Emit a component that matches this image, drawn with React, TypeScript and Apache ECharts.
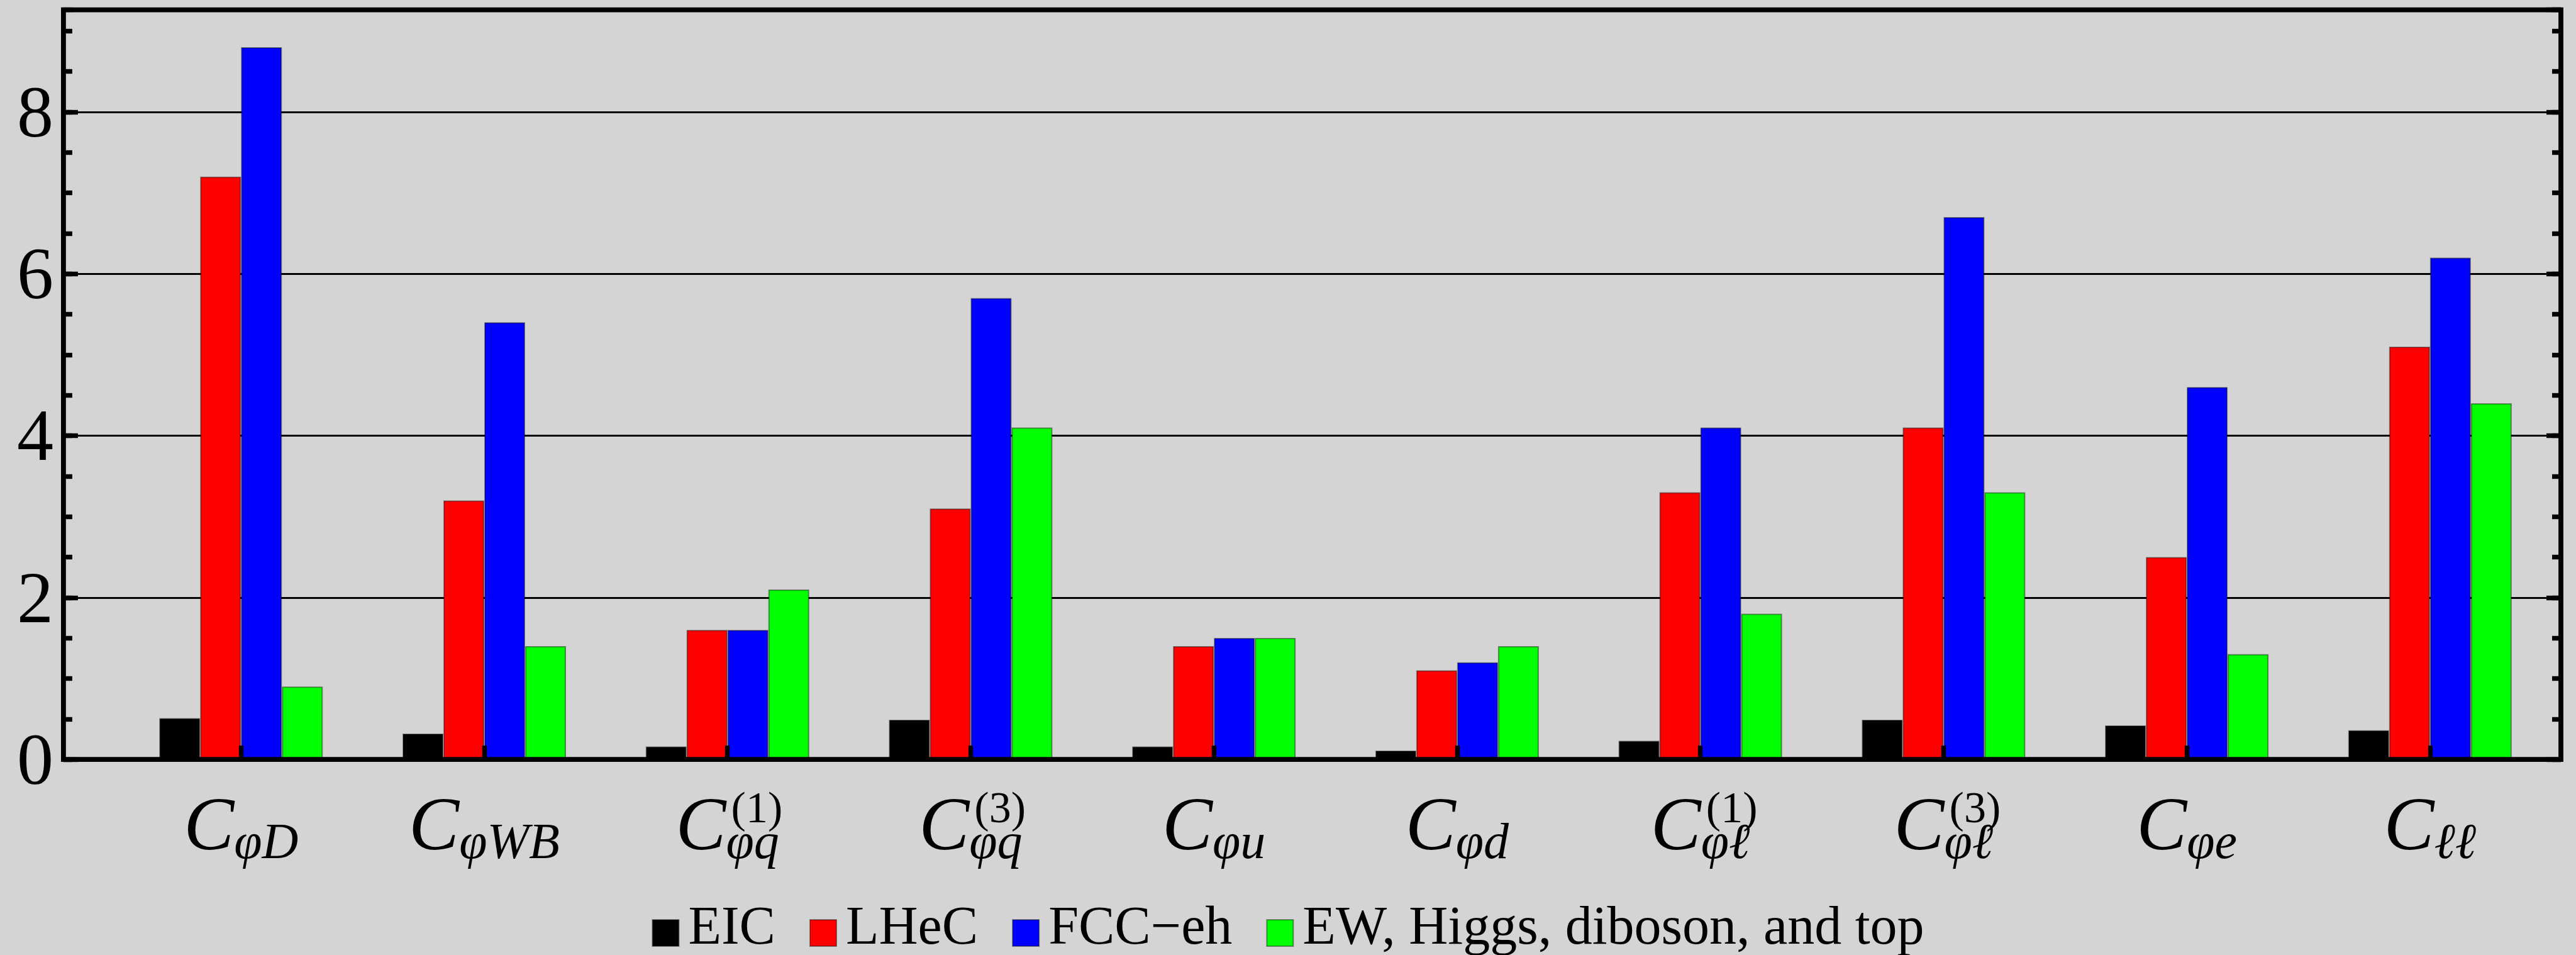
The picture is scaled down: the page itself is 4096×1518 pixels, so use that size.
import React, { useEffect, useRef } from 'react';
import * as echarts from 'echarts';

// ---------- data ----------
const categories = ['C_φD', 'C_φWB', 'C_φq^(1)', 'C_φq^(3)', 'C_φu', 'C_φd', 'C_φℓ^(1)', 'C_φℓ^(3)', 'C_φe', 'C_ℓℓ'];
const seriesNames = ['EIC', 'LHeC', 'FCC−eh', 'EW, Higgs, diboson, and top'];
const eicValues = [0.51, 0.32, 0.16, 0.49, 0.16, 0.11, 0.23, 0.49, 0.42, 0.36];
const lhecValues = [7.2, 3.2, 1.6, 3.1, 1.4, 1.1, 3.3, 4.1, 2.5, 5.1];
const fccehValues = [8.8, 5.4, 1.6, 5.7, 1.5, 1.2, 4.1, 6.7, 4.6, 6.2];
const ewValues = [0.9, 1.4, 2.1, 4.1, 1.5, 1.4, 1.8, 3.3, 1.3, 4.4];
const seriesColors = ['#000000', '#ff0000', '#0000ff', '#00ff00'];
const yTickLabels = ['0', '2', '4', '6', '8'];
const yTickStep = 2;
const yMinorStep = 0.5;
const yMax = 9.26;

// ---------- style ----------
const SERIF = '"Liberation Serif", "DejaVu Serif", serif';
const BG = '#d4d4d4';

function parseLabel(s: string) {
  const [main, rest = ''] = s.split('_');
  const [sub, sup = ''] = rest.split('^');
  return { main, sub, sup };
}

export default function App() {
  const ref = useRef<HTMLDivElement>(null);
  useEffect(() => {
    const el = ref.current!;
    const chart = echarts.init(el, null, { renderer: 'svg' });

    const canvas = document.createElement('canvas');
    const ctx = canvas.getContext('2d')!;
    const measure = (t: string, font: string) => {
      ctx.font = font;
      return ctx.measureText(t).width;
    };
    const C_SIZE = 120;
    const SUB_SIZE = 80;
    const SUP_SIZE = 70;
    const SUP_GAP = 8;
    const rich: any = {};
    categories.forEach((cat, i) => {
      const { main, sub, sup } = parseLabel(cat);
      const wC = measure(main, `italic ${C_SIZE}px "Liberation Serif"`);
      const wS = measure(sub, `italic ${SUB_SIZE}px "Liberation Serif"`);
      const wU = sup ? measure(sup, `${SUP_SIZE}px "Liberation Serif"`) : 0;
      rich['u' + i] = {
        fontFamily: SERIF, fontSize: SUP_SIZE, color: '#000', lineHeight: 12, verticalAlign: 'middle',
        padding: [0, 0, 0, Math.max(0, wC - wS + 2 * SUP_GAP + wU)],
      };
      rich['c' + i] = {
        fontFamily: SERIF, fontStyle: 'italic', fontSize: C_SIZE, color: '#000', lineHeight: 40, verticalAlign: 'middle',
        padding: [0, wS, 0, 0],
      };
      rich['s' + i] = {
        fontFamily: SERIF, fontStyle: 'italic', fontSize: SUB_SIZE, color: '#000', lineHeight: 15, verticalAlign: 'middle',
        padding: [0, 0, 0, wC],
      };
    });

    const gridTop = 15.7;
    const gridHeight = 1191.4;
    const frame = { x: 100.9, y: gridTop, width: 3971.1, height: gridHeight };
    const tickLine = { color: '#000', width: 7.4 };

    const minorAxis = (position: string, interval: number, length: number, withLabels: boolean) => ({
      gridIndex: 0,
      type: 'value',
      position,
      min: 0,
      max: yMax,
      interval,
      axisLine: { show: false },
      axisTick: { show: true, inside: true, length, lineStyle: tickLine },
      axisLabel: withLabels
        ? {
            show: true, margin: 16, fontSize: 116, fontFamily: SERIF, color: '#000',
            padding: [22, 0, 0, 0], showMaxLabel: false,
            formatter: (v: number) => {
              const idx = Math.round(v / yTickStep);
              return Math.abs(v - idx * yTickStep) < 1e-6 && yTickLabels[idx] !== undefined ? yTickLabels[idx] : '';
            },
          }
        : { show: false },
      splitLine: withLabels ? { show: true, lineStyle: { color: '#000', width: 3 } } : { show: false },
    });

    const allValues = [eicValues, lhecValues, fccehValues, ewValues];

    const option: any = {
      animation: false,
      backgroundColor: BG,
      textStyle: { fontFamily: SERIF },
      grid: [
        { left: frame.x, top: gridTop, width: frame.width, height: gridHeight, show: false },
        { left: 189.9, top: gridTop, width: 3867.3, height: gridHeight, show: false },
      ],
      legend: {
        show: true,
        left: 'center',
        top: 1423,
        orient: 'horizontal',
        itemWidth: 42,
        itemHeight: 42,
        itemGap: 54,
        icon: 'rect',
        data: seriesNames,
        formatter: (name: string) => `{n|${name}}`,
        textStyle: {
          padding: [0, 0, 24, 10],
          rich: { n: { fontFamily: SERIF, fontSize: 86, color: '#000' } },
        },
      },
      xAxis: [
        { gridIndex: 0, type: 'value', min: 0, max: 1, show: false },
        {
          gridIndex: 1,
          type: 'category',
          data: categories,
          z: 10,
          axisLine: { show: false },
          axisTick: { show: true, inside: true, alignWithLabel: true, length: 22, lineStyle: tickLine },
          axisLabel: {
            interval: 0,
            margin: 70,
            formatter: (value: string, index: number) => {
              const p = parseLabel(value);
              return `{u${index}|${p.sup || ' '}}\n{c${index}|${p.main}}\n{s${index}|${p.sub}}`;
            },
            rich,
          },
          splitLine: { show: false },
        },
      ],
      yAxis: [
        minorAxis('left', yTickStep, 23, true),
        minorAxis('left', yMinorStep, 14, false),
        minorAxis('right', yTickStep, 23, false),
        minorAxis('right', yMinorStep, 14, false),
        { gridIndex: 1, type: 'value', min: 0, max: yMax, show: false },
      ],
      graphic: [
        {
          type: 'rect',
          z: 100,
          silent: true,
          shape: frame,
          style: { fill: 'none', stroke: '#000', lineWidth: 7.8 },
        },
      ],
      series: allValues.map((vals, i) => ({
        type: 'bar',
        name: seriesNames[i],
        xAxisIndex: 1,
        yAxisIndex: 4,
        data: vals,
        barWidth: 65,
        barGap: '0%',
        itemStyle: { color: seriesColors[i], borderColor: 'rgba(0,0,0,0.4)', borderWidth: 2 },
        emphasis: { disabled: true },
      })),
    };
    chart.setOption(option);
    return () => chart.dispose();
  }, []);
  return <div ref={ref} style={{ position: 'absolute', left: 0, top: 0, width: 4096, height: 1518 }} />;
}
